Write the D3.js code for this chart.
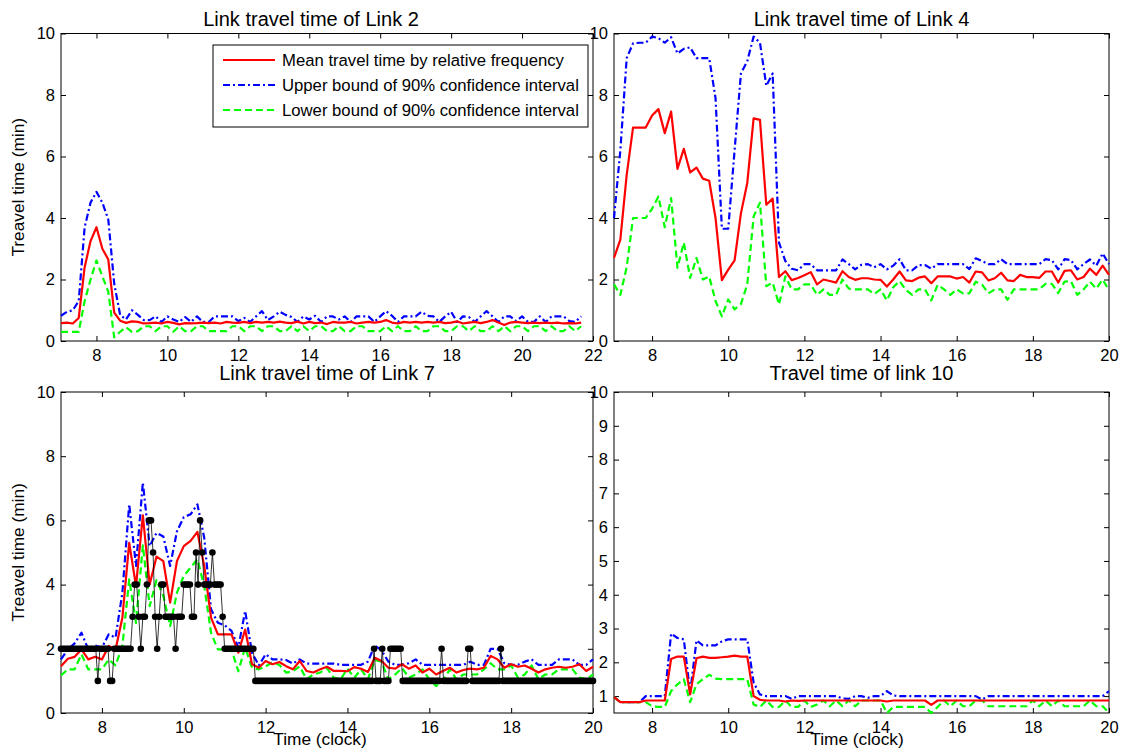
<!DOCTYPE html>
<html>
<head>
<meta charset="utf-8">
<script src="https://cdn.jsdelivr.net/npm/d3@7"></script>
<style>
  body { margin: 0; background: #fff; }
  svg text { font-family: "Liberation Sans", Arial, Helvetica, sans-serif; fill: #000; }
</style>
</head>
<body>
<svg id="fig" width="1125" height="751"></svg>
<script>
// ---- Link 2: 10-minute slots from 7:00 to 21:40 ----
const link2Mean = [0.58,0.60,0.57,0.75,2.40,3.25,3.70,3.00,2.65,0.92, 0.66,0.59,0.64,0.62,0.57,0.58,0.60,0.57,0.62,0.59,
  0.54,0.58,0.57,0.58,0.60,0.58,0.60,0.57,0.62,0.60, 0.59,0.62,0.58,0.62,0.60,0.62,0.60,0.63,0.60,0.58,
  0.63,0.57,0.62,0.58,0.60,0.55,0.62,0.60,0.60,0.62, 0.57,0.60,0.62,0.60,0.62,0.68,0.60,0.57,0.62,0.60,
  0.62,0.60,0.62,0.60,0.62,0.58,0.60,0.64,0.57,0.60, 0.62,0.58,0.62,0.68,0.60,0.52,0.60,0.62,0.60,0.58,
  0.60,0.58,0.60,0.58,0.60,0.57,0.58,0.57,0.60];
const link2Upper = [0.82,0.95,1.00,1.30,3.70,4.50,4.85,4.50,3.95,1.87, 0.85,0.70,1.00,0.85,0.68,0.68,0.80,0.62,0.80,0.70,
  0.62,0.78,0.62,0.80,0.62,0.62,0.80,0.80,0.80,0.80, 0.65,0.75,0.62,0.80,0.97,0.68,0.80,0.95,0.85,0.78,
  0.62,0.80,0.70,0.82,0.62,0.80,0.80,0.70,0.80,0.62, 0.80,0.80,0.80,0.62,0.80,0.97,0.82,0.62,0.80,0.80,
  0.80,0.95,0.82,0.80,0.62,0.80,0.95,0.62,0.80,0.78, 0.62,0.80,0.97,0.80,0.62,0.80,0.80,0.65,0.80,0.62,
  0.62,0.80,0.62,0.80,0.80,0.80,0.65,0.62,0.80];
const link2Lower = [0.30,0.30,0.30,0.30,1.30,2.00,2.62,2.10,1.60,0.12, 0.30,0.45,0.30,0.32,0.48,0.48,0.32,0.48,0.48,0.30,
  0.48,0.32,0.32,0.48,0.48,0.32,0.32,0.32,0.32,0.48, 0.48,0.32,0.48,0.48,0.32,0.48,0.48,0.32,0.32,0.48,
  0.32,0.48,0.32,0.48,0.48,0.32,0.32,0.48,0.32,0.32, 0.48,0.48,0.32,0.32,0.32,0.48,0.32,0.48,0.32,0.32,
  0.48,0.32,0.32,0.48,0.48,0.32,0.32,0.48,0.48,0.32, 0.48,0.32,0.32,0.48,0.32,0.48,0.32,0.48,0.48,0.32,
  0.48,0.48,0.32,0.48,0.32,0.32,0.48,0.32,0.48];

// ---- Link 4: 10-minute slots from 7:00 to 20:00 ----
const link4Mean = [2.70,3.30,5.40,6.94,6.94,6.94,7.33,7.54,6.76,7.46, 5.60,6.25,5.48,5.64,5.28,5.21,4.00,1.98,2.32,2.62,
  4.15,5.14,7.24,7.19,4.43,4.63,2.08,2.27,1.98,2.05, 2.14,2.24,1.84,2.00,1.95,1.90,2.27,2.08,1.99,2.04,
  2.04,2.00,1.99,1.77,2.00,2.26,1.97,1.95,2.06,2.10, 1.88,2.10,2.10,2.10,2.03,2.08,1.90,2.26,2.23,1.97,
  2.04,2.22,1.97,1.95,2.15,2.08,2.08,2.05,2.26,2.26, 1.90,2.28,2.30,2.00,2.08,2.35,2.15,2.45,2.15];
const link4Upper = [4.00,6.20,9.20,9.68,9.70,9.70,9.90,9.85,9.70,9.88, 9.35,9.50,9.55,9.20,9.20,9.20,7.90,3.65,3.65,6.20,
  8.70,9.10,9.90,9.70,8.30,8.70,3.20,2.60,2.35,2.30, 2.50,2.50,2.30,2.30,2.30,2.30,2.65,2.50,2.33,2.48,
  2.50,2.40,2.50,2.33,2.45,2.66,2.30,2.30,2.47,2.47, 2.35,2.50,2.50,2.50,2.50,2.50,2.34,2.69,2.60,2.50,
  2.50,2.66,2.50,2.50,2.50,2.50,2.50,2.50,2.66,2.63, 2.33,2.66,2.63,2.33,2.50,2.65,2.45,2.85,2.50];
const link4Lower = [1.84,1.50,2.40,4.00,4.00,4.00,4.30,4.70,3.70,4.65, 2.38,3.20,2.05,2.70,2.00,2.10,1.30,0.80,1.35,1.03,
  1.20,1.84,4.05,4.50,1.78,1.90,1.19,2.10,1.68,1.68, 1.84,1.84,1.50,1.68,1.50,1.50,2.00,1.70,1.68,1.68,
  1.68,1.53,1.68,1.32,1.75,1.95,1.66,1.50,1.68,1.68, 1.32,1.83,1.68,1.50,1.68,1.55,1.55,1.93,1.83,1.55,
  1.68,1.68,1.34,1.68,1.68,1.68,1.68,1.68,1.86,1.86, 1.56,1.93,1.95,1.50,1.68,1.93,1.70,2.00,1.65];

// ---- Link 7: 10-minute slots from 7:00 to 20:00 ----
const link7Mean = [1.46,1.69,1.75,1.98,1.67,1.75,1.67,2.09,1.98,2.97, 5.30,3.95,6.16,4.00,4.87,4.73,3.44,4.73,5.20,5.36,
  5.64,4.58,2.97,2.45,2.45,2.45,1.88,2.60,1.52,1.41, 1.62,1.52,1.59,1.46,1.36,1.62,1.31,1.26,1.36,1.44,
  1.31,1.31,1.30,1.43,1.38,1.28,1.72,1.62,1.41,1.38, 1.52,1.38,1.48,1.26,1.38,1.20,1.31,1.41,1.26,1.34,
  1.38,1.36,1.41,1.78,1.67,1.41,1.52,1.44,1.48,1.38, 1.26,1.36,1.41,1.44,1.41,1.44,1.52,1.31,1.44];
const link7Upper = [1.67,1.98,2.17,2.50,1.98,2.10,2.04,2.45,2.35,3.75, 6.50,4.58,7.18,5.20,5.61,5.50,4.58,5.66,6.10,6.19,
  6.50,5.46,3.23,2.81,2.73,2.56,2.04,3.18,1.88,1.48, 1.83,1.67,1.67,1.65,1.54,1.67,1.54,1.54,1.54,1.54,
  1.54,1.50,1.50,1.50,1.50,1.60,2.10,1.95,1.60,1.50, 1.50,1.55,1.67,1.50,1.50,1.50,1.50,1.50,1.50,1.50,
  1.60,1.50,1.50,2.00,2.00,1.55,1.50,1.50,1.60,1.67, 1.50,1.50,1.50,1.67,1.67,1.67,1.50,1.50,1.67];
const link7Lower = [1.17,1.36,1.36,1.83,1.36,1.36,1.36,1.67,1.48,2.09, 4.16,2.81,5.22,3.33,4.14,3.65,2.71,3.75,4.27,4.53,
  4.79,3.95,2.50,1.98,1.98,1.98,1.30,2.04,1.41,1.36, 1.45,1.58,1.50,1.26,1.30,1.45,1.05,1.20,1.26,1.40,
  1.10,1.05,1.38,1.10,1.36,1.05,1.65,1.60,1.05,1.20, 1.40,1.10,1.20,1.36,1.05,0.84,1.00,1.36,1.05,1.20,
  1.20,1.20,1.36,1.55,1.36,1.36,1.48,1.10,1.20,1.48, 1.05,1.20,1.20,1.36,1.36,1.36,1.10,1.05,1.20];
// individual probe travel times on Link 7, one reading every 3 minutes (one row per hour)
const link7Probes = [
  2,2,2,2,2,2,2,2,2,2,2,2,2,2,2,2,2,2,1,2,   // 7:00
  2,2,2,2,1,1,2,2,2,2,2,2,2,2,2,3,4,4,3,2,   // 8:00
  3,3,4,6,6,5,3,2,3,4,4,3,3,3,3,3,2,3,3,3,   // 9:00
  4,4,4,4,3,3,5,4,6,5,4,4,4,4,5,4,4,4,4,3,   // 10:00
  2,2,2,2,2,2,2,2,2,2,2,2,2,2,2,1,1,1,1,1,   // 11:00
  1,1,1,1,1,1,1,1,1,1,1,1,1,1,1,1,1,1,1,1,   // 12:00
  1,1,1,1,1,1,1,1,1,1,1,1,1,1,1,1,1,1,1,1,   // 13:00
  1,1,1,1,1,1,1,1,1,1,1,1,1,2,1,1,1,2,1,1,   // 14:00
  1,2,2,2,2,2,2,1,1,1,1,1,1,1,1,1,1,1,1,1,   // 15:00
  1,1,1,1,1,1,2,1,1,1,1,1,1,1,1,1,1,1,1,2,   // 16:00
  2,1,1,1,1,1,1,1,1,1,1,1,1,1,1,2,1,1,1,1,   // 17:00
  1,1,1,1,1,1,1,1,1,1,1,1,1,1,1,1,1,1,1,1,   // 18:00
  1,1,1,1,1,1,1,1,1,1,1,1,1,1,1,1,1,1,1,1,   // 19:00
  1];                                        // 20:00

// ---- Link 10: 10-minute slots from 7:00 to 20:00 ----
const link10Mean = [0.97,0.82,0.82,0.82,0.82,0.87,0.87,0.87,0.87,2.10, 2.17,2.17,1.05,2.12,2.17,2.13,2.13,2.15,2.17,2.20,
  2.17,2.17,1.00,0.89,0.87,0.87,0.87,0.84,0.87,0.86, 0.87,0.87,0.87,0.87,0.87,0.87,0.87,0.87,0.87,0.87,
  0.87,0.87,0.87,0.84,0.87,0.87,0.87,0.87,0.87,0.87, 0.74,0.87,0.87,0.87,0.87,0.87,0.87,0.87,0.87,0.87,
  0.87,0.87,0.87,0.87,0.87,0.87,0.87,0.87,0.87,0.87, 0.87,0.87,0.87,0.87,0.87,0.87,0.87,0.87,0.87];
const link10Upper = [0.97,0.82,0.82,0.82,0.82,1.00,1.00,1.00,1.00,2.85, 2.72,2.68,1.10,2.65,2.50,2.50,2.50,2.62,2.68,2.68,
  2.68,2.68,1.40,1.05,1.00,1.00,1.00,1.00,0.92,1.00, 1.00,1.00,1.00,1.00,1.00,1.00,0.93,0.92,1.00,1.00,
  0.95,1.00,1.00,1.15,1.02,1.00,1.00,1.00,1.00,1.00, 1.00,1.00,1.00,1.00,1.00,1.00,1.00,1.00,0.90,1.00,
  1.00,1.00,1.00,1.00,1.00,1.00,1.00,1.00,1.00,1.00, 1.00,1.00,1.00,1.00,1.00,1.00,1.00,1.00,1.15];
const link10Lower = [0.97,0.82,0.82,0.82,0.82,0.82,0.70,0.68,0.68,1.15, 1.35,1.50,0.82,1.35,1.50,1.63,1.52,1.50,1.50,1.50,
  1.50,1.50,0.75,0.68,0.87,0.68,0.68,0.87,0.68,0.68, 0.87,0.68,0.75,0.87,0.70,0.87,0.70,0.87,0.70,0.87,
  0.87,0.87,0.87,0.50,0.68,0.68,0.68,0.68,0.68,0.68, 0.50,0.68,0.87,0.70,0.87,0.70,0.70,0.87,0.87,0.70,
  0.70,0.70,0.70,0.70,0.70,0.70,0.87,0.70,0.87,0.70, 0.87,0.70,0.70,0.70,0.70,0.87,0.70,0.70,0.50];

// ---- axis ticks ----
const ticksX22 = [8, 10, 12, 14, 16, 18, 20, 22];
const ticksX20 = [8, 10, 12, 14, 16, 18, 20];
const ticksY10 = [0, 2, 4, 6, 8, 10];
const ticksY1to10 = [1, 2, 3, 4, 5, 6, 7, 8, 9, 10];

const legendLabels = [
  "Mean travel time by relative frequency",
  "Upper bound of 90% confidence interval",
  "Lower bound of 90% confidence interval"
];

// ---- styling ----
const styles = {
  mean:  { color: "#ff0000", dash: null },
  upper: { color: "#0000ff", dash: "7,3,2,3" },
  lower: { color: "#00ff00", dash: "7,4" }
};
const FS_TICK = 16.5, FS_TITLE = 20, FS_LABEL = 17.3, FS_LEGEND = 16.7;

// slot times (clock hours) for a series sampled every `minutes` starting at 7:00
const slots = (n, minutes) => d3.range(n).map(i => 7 + i * minutes / 60);
const pair = (vals, minutes) => { const t = slots(vals.length, minutes); return vals.map((v, i) => ({ t: t[i], v })); };

const panels = [
  { title: "Link travel time of Link 2", titleX: 311, left: 61, right: 593, top: 33.5, bottom: 341,
    xDomain: [7, 22], yDomain: [0, 10], xTicks: ticksX22, yTicks: ticksY10,
    ylabel: "Treavel time (min)", xlabel: null, legend: true,
    series: { mean: link2Mean, upper: link2Upper, lower: link2Lower } },
  { title: "Link travel time of Link 4", left: 614, right: 1109, top: 33.5, bottom: 341,
    xDomain: [7, 20], yDomain: [0, 10], xTicks: ticksX20, yTicks: ticksY10,
    ylabel: null, xlabel: null,
    series: { mean: link4Mean, upper: link4Upper, lower: link4Lower } },
  { title: "Link travel time of Link 7", left: 61, right: 593, top: 392, bottom: 713,
    xDomain: [7, 20], yDomain: [0, 10], xTicks: ticksX20, yTicks: ticksY10,
    ylabel: "Treavel time (min)", xlabel: "Time (clock)", xlabelX: 320, probes: link7Probes,
    series: { mean: link7Mean, upper: link7Upper, lower: link7Lower } },
  { title: "Travel time of link 10", left: 614, right: 1109, top: 392, bottom: 713,
    xDomain: [7, 20], yDomain: [0.5, 10], xTicks: ticksX20, yTicks: ticksY1to10,
    ylabel: null, xlabel: "Time (clock)", xlabelX: 857,
    series: { mean: link10Mean, upper: link10Upper, lower: link10Lower } }
];

const svg = d3.select("#fig");

function drawPanel(p) {
  const g = svg.append("g");
  const x = d3.scaleLinear().domain(p.xDomain).range([p.left, p.right]);
  const y = d3.scaleLinear().domain(p.yDomain).range([p.bottom, p.top]);

  // axes: inward ticks on all four sides, labels bottom and left
  const ax = (axis, tx, ty, labels) => {
    const a = g.append("g").attr("transform", `translate(${tx},${ty})`)
      .call(axis.tickSizeInner(-5).tickSizeOuter(0).tickPadding(labels ? 8 : 0));
    a.select(".domain").remove();
    a.selectAll(".tick line").attr("stroke", "#000").attr("stroke-width", 1);
    if (!labels) a.selectAll(".tick text").remove();
    else a.selectAll(".tick text").attr("font-size", FS_TICK);
    a.attr("font-family", null).attr("font-size", null);
    return a;
  };
  ax(d3.axisBottom(x).tickValues(p.xTicks).tickFormat(d3.format("d")), 0, p.bottom, true);
  ax(d3.axisTop(x).tickValues(p.xTicks), 0, p.top, false);
  const la = ax(d3.axisLeft(y).tickValues(p.yTicks).tickFormat(d3.format("d")), p.left, 0, true);
  la.selectAll(".tick text").attr("x", -6);
  ax(d3.axisRight(y).tickValues(p.yTicks), p.right, 0, false);

  // plot box
  g.append("rect").attr("x", p.left).attr("y", p.top)
    .attr("width", p.right - p.left).attr("height", p.bottom - p.top)
    .attr("fill", "none").attr("stroke", "#000").attr("stroke-width", 1);

  const line = d3.line().x(d => x(d.t)).y(d => y(d.v));

  // confidence bounds and mean
  ["upper", "lower", "mean"].forEach(key => {
    const s = styles[key];
    g.append("path").datum(pair(p.series[key], 10))
      .attr("d", line).attr("fill", "none")
      .attr("stroke", s.color).attr("stroke-width", 2.2)
      .attr("stroke-dasharray", s.dash)
      .attr("stroke-linejoin", "round");
  });

  // individual probe readings (black markers joined by a thin line)
  if (p.probes) {
    const pts = pair(p.probes, 3);
    g.append("path").datum(pts).attr("d", line).attr("fill", "none")
      .attr("stroke", "#000").attr("stroke-width", 0.8);
    g.append("g").selectAll("circle").data(pts).join("circle")
      .attr("cx", d => x(d.t)).attr("cy", d => y(d.v)).attr("r", 3.3).attr("fill", "#000");
  }

  // title
  g.append("text").attr("x", p.titleX ?? (p.left + p.right) / 2).attr("y", p.top - (p.top < 100 ? 8 : 12))
    .attr("text-anchor", "middle").attr("font-size", FS_TITLE).text(p.title);

  // axis labels
  if (p.ylabel) {
    g.append("text").attr("transform", `translate(24,${(p.top + p.bottom) / 2}) rotate(-90)`)
      .attr("text-anchor", "middle").attr("font-size", FS_LABEL).text(p.ylabel);
  }
  if (p.xlabel) {
    g.append("text").attr("x", p.xlabelX ?? (p.left + p.right) / 2).attr("y", p.bottom + 32)
      .attr("text-anchor", "middle").attr("font-size", FS_LABEL).text(p.xlabel);
  }

  // legend
  if (p.legend) {
    const lx = 213, ly = 45, lw = 375, lh = 82, rowH = 25;
    const lg = g.append("g");
    lg.append("rect").attr("x", lx).attr("y", ly).attr("width", lw).attr("height", lh)
      .attr("fill", "#fff").attr("stroke", "#000").attr("stroke-width", 1);
    ["mean", "upper", "lower"].forEach((key, i) => {
      const s = styles[key], cy = ly + 15 + i * rowH;
      lg.append("line").attr("x1", lx + 10).attr("x2", lx + 62).attr("y1", cy).attr("y2", cy)
        .attr("stroke", s.color).attr("stroke-width", 2.2).attr("stroke-dasharray", s.dash);
      lg.append("text").attr("x", lx + 69).attr("y", cy).attr("dy", "0.35em")
        .attr("font-size", FS_LEGEND).text(legendLabels[i]);
    });
  }
}

panels.forEach(drawPanel);
</script>
</body>
</html>
